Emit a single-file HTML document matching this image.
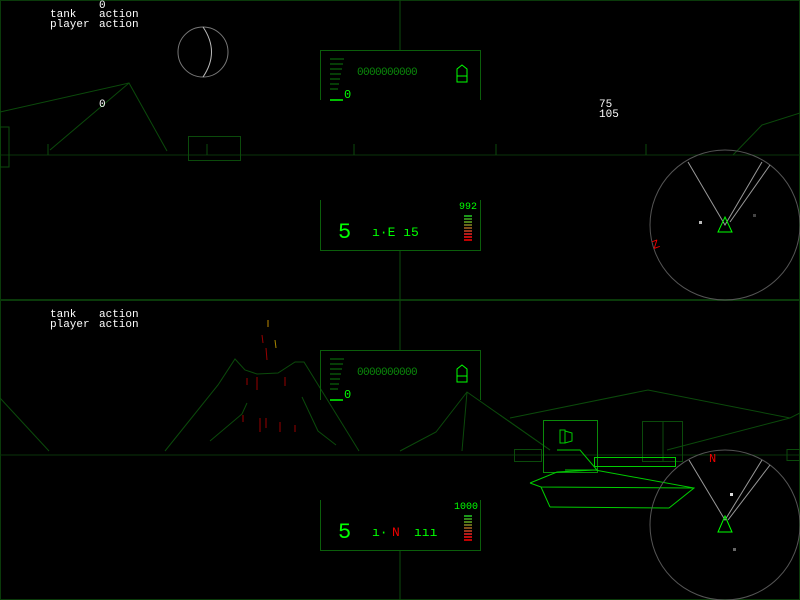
<!DOCTYPE html>
<html><head><style>
html,body{margin:0;padding:0;background:#000;}
svg{display:block}
text{font-family:"Liberation Mono",monospace;}
</style></head><body>
<svg width="800" height="600" viewBox="0 0 800 600" xmlns="http://www.w3.org/2000/svg">
<rect width="800" height="600" fill="#000"/>
<g fill="none" stroke="#0a3a0a" stroke-width="1">
<rect x="0.5" y="0.5" width="799" height="299"/>
<rect x="0.5" y="300.5" width="799" height="299"/>
</g>
<!-- TOP HALF -->
<g fill="none" stroke="#0b4a0b">
<line x1="0" y1="155" x2="800" y2="155" stroke="#0a330a"/>
<polyline points="0,112 129,83 167,151"/>
<line x1="50" y1="150" x2="129" y2="83"/>
<rect x="0" y="127" width="9" height="40"/>
<rect x="188.5" y="136.5" width="52" height="24"/>
<line x1="48" y1="144" x2="48" y2="155"/><line x1="207" y1="144" x2="207" y2="155"/>
<line x1="354" y1="144" x2="354" y2="155"/><line x1="496" y1="144" x2="496" y2="155"/><line x1="646" y1="144" x2="646" y2="155"/>
<polyline points="733,155 762,125 800,113"/>
<line x1="400" y1="0" x2="400" y2="50"/><line x1="400" y1="250" x2="400" y2="300"/>
<polyline points="320.5,100 320.5,50.5 480.5,50.5 480.5,100" stroke="#0b5e0b"/>
<polyline points="320.5,200 320.5,250.5 480.5,250.5 480.5,200" stroke="#0b5e0b"/>
</g>
<g fill="none"><circle cx="203" cy="52" r="25" stroke="#777"/><path d="M203,27 Q220,52 203,77" stroke="#bbb"/></g>
<g stroke="#0b7a0b"><line x1="330" y1="59" x2="344" y2="59"/><line x1="330" y1="64" x2="343" y2="64"/><line x1="330" y1="69" x2="342" y2="69"/><line x1="330" y1="74" x2="341" y2="74"/><line x1="330" y1="79" x2="340" y2="79"/><line x1="330" y1="84" x2="339" y2="84"/><line x1="330" y1="89" x2="338" y2="89"/></g>
<line x1="330" y1="100" x2="343" y2="100" stroke="#0f0" stroke-width="1.5"/>
<text x="344" y="98" fill="#0f0" font-size="12">0</text>
<text x="357" y="75" fill="#0a8a0a" font-size="11" letter-spacing="-0.6">0000000000</text>
<path d="M457,75 V69 L462,65 L467,69 V82 H457 Z M457,76 H467" fill="none" stroke="#0f0"/>
<text x="338" y="238" fill="#0f0" font-size="22">5</text>
<text x="372" y="236" fill="#0f0" font-size="13">ı·E  ı5</text>
<text x="459" y="209" fill="#0f0" font-size="10">992</text>
<g stroke-width="1.5"><line x1="464" y1="216" x2="472" y2="216" stroke="#2c2"/><line x1="464" y1="219" x2="472" y2="219" stroke="#4a2"/><line x1="464" y1="222" x2="472" y2="222" stroke="#6a2"/><line x1="464" y1="225" x2="472" y2="225" stroke="#882"/><line x1="464" y1="228" x2="472" y2="228" stroke="#a62"/><line x1="464" y1="231" x2="472" y2="231" stroke="#c42"/><line x1="464" y1="234" x2="472" y2="234" stroke="#e22"/><line x1="464" y1="237" x2="472" y2="237" stroke="#f11"/><line x1="464" y1="240" x2="472" y2="240" stroke="#f00"/></g>
<circle cx="725" cy="225" r="75" fill="none" stroke="#555"/>
<g stroke="#999" fill="none"><polyline points="688,162 725,225 762,162"/><line x1="730" y1="222" x2="770" y2="165"/></g>
<path d="M725,217 L732,232 H718 Z" fill="none" stroke="#0f0"/>
<rect x="699" y="221" width="3" height="3" fill="#bbb"/><rect x="753" y="214" width="3" height="3" fill="#444"/>
<text x="652" y="248" fill="#e00" font-size="12" transform="rotate(-20 656 244)">Z</text>
<g fill="#fff" font-size="11"><text x="99" y="8">0</text><text x="50" y="17">tank</text><text x="99" y="17">action</text><text x="50" y="27">player</text><text x="99" y="27">action</text><text x="99" y="107">0</text><text x="599" y="107">75</text><text x="599" y="117">105</text></g>
<!-- BOTTOM HALF -->
<g fill="none" stroke="#0b4a0b">
<line x1="0" y1="455" x2="800" y2="455" stroke="#0a330a"/>
<polyline points="0,398 49,451"/>
<polyline points="165,451 218,385 235,359 245,370 257,374 278,373 295,362 304,362 359,451"/>
<polyline points="210,441 242,414 247,403"/>
<polyline points="302,397 318,431 336,445"/>
<polyline points="400,451 436,432 467,392 550,450"/>
<line x1="467" y1="392" x2="462" y2="451"/>
<polyline points="510,418 648,390 790,418 800,413"/>
<polyline points="500,415 550,450"/>
<line x1="667" y1="450" x2="790" y2="418"/>
<rect x="514.5" y="449.5" width="27" height="12"/>
<rect x="642.5" y="421.5" width="40" height="40"/>
<line x1="663" y1="421" x2="663" y2="461"/>
<rect x="787" y="449.5" width="13" height="11"/>
<line x1="400" y1="300" x2="400" y2="350"/><line x1="400" y1="550" x2="400" y2="600"/>
<polyline points="320.5,400 320.5,350.5 480.5,350.5 480.5,400" stroke="#0b5e0b"/>
<polyline points="320.5,500 320.5,550.5 480.5,550.5 480.5,500" stroke="#0b5e0b"/>
</g>
<g stroke="#900" stroke-width="1"><line x1="268" y1="320" x2="268" y2="327" stroke="#b80"/><line x1="262" y1="335" x2="263" y2="343"/><line x1="275" y1="340" x2="276" y2="348" stroke="#a80"/><line x1="266" y1="348" x2="267" y2="360"/><line x1="257" y1="377" x2="257" y2="390"/><line x1="285" y1="377" x2="285" y2="386"/><line x1="243" y1="415" x2="243" y2="422"/><line x1="266" y1="418" x2="266" y2="428"/><line x1="280" y1="422" x2="280" y2="432"/><line x1="295" y1="425" x2="295" y2="432"/><line x1="247" y1="378" x2="247" y2="385"/><line x1="260" y1="418" x2="260" y2="432"/></g>
<g stroke="#0b7a0b"><line x1="330" y1="359" x2="344" y2="359"/><line x1="330" y1="364" x2="343" y2="364"/><line x1="330" y1="369" x2="342" y2="369"/><line x1="330" y1="374" x2="341" y2="374"/><line x1="330" y1="379" x2="340" y2="379"/><line x1="330" y1="384" x2="339" y2="384"/><line x1="330" y1="389" x2="338" y2="389"/></g>
<line x1="330" y1="400" x2="343" y2="400" stroke="#0f0" stroke-width="1.5"/>
<text x="344" y="398" fill="#0f0" font-size="12">0</text>
<text x="357" y="375" fill="#0a8a0a" font-size="11" letter-spacing="-0.6">0000000000</text>
<path d="M457,375 V369 L462,365 L467,369 V382 H457 Z M457,376 H467" fill="none" stroke="#0f0"/>
<text x="338" y="538" fill="#0f0" font-size="22">5</text>
<text x="372" y="536" fill="#0f0" font-size="13">ı·</text><text x="392" y="536" fill="#e00" font-size="13">N</text><text x="414" y="536" fill="#0f0" font-size="13">ııı</text>
<text x="454" y="509" fill="#0f0" font-size="10">1000</text>
<g stroke-width="1.5"><line x1="464" y1="516" x2="472" y2="516" stroke="#2c2"/><line x1="464" y1="519" x2="472" y2="519" stroke="#4a2"/><line x1="464" y1="522" x2="472" y2="522" stroke="#6a2"/><line x1="464" y1="525" x2="472" y2="525" stroke="#882"/><line x1="464" y1="528" x2="472" y2="528" stroke="#a62"/><line x1="464" y1="531" x2="472" y2="531" stroke="#c42"/><line x1="464" y1="534" x2="472" y2="534" stroke="#e22"/><line x1="464" y1="537" x2="472" y2="537" stroke="#f11"/><line x1="464" y1="540" x2="472" y2="540" stroke="#f00"/></g>
<!-- tank -->
<g fill="none" stroke="#0c0">
<rect x="543.5" y="420.5" width="54" height="52" stroke="#0a8a0a"/>
<path d="M560,430 H565 V443 H560 Z M565,431 L572,433 V441 L565,443" />
<polyline points="557,450 580,450 597,470 565,470 Z"/>
<rect x="594.5" y="457.5" width="81" height="9"/>
<polyline points="530,483 557,472 595,470 694,488 669,508 550,507 Z"/>
<polyline points="530,483 541,487 694,488"/>
<line x1="541" y1="487" x2="550" y2="507"/>
</g>
<circle cx="725" cy="525" r="75" fill="none" stroke="#555"/>
<g stroke="#999" fill="none"><polyline points="689,460 725,520 762,460"/><line x1="728" y1="520" x2="770" y2="465"/></g>
<path d="M725,516 L732,532 H718 Z" fill="none" stroke="#0f0"/>
<rect x="730" y="493" width="3" height="3" fill="#ddd"/><rect x="733" y="548" width="3" height="3" fill="#666"/>
<text x="709" y="462" fill="#e00" font-size="12">N</text>
<g fill="#fff" font-size="11"><text x="50" y="317">tank</text><text x="99" y="317">action</text><text x="50" y="327">player</text><text x="99" y="327">action</text></g>
</svg>
</body></html>
